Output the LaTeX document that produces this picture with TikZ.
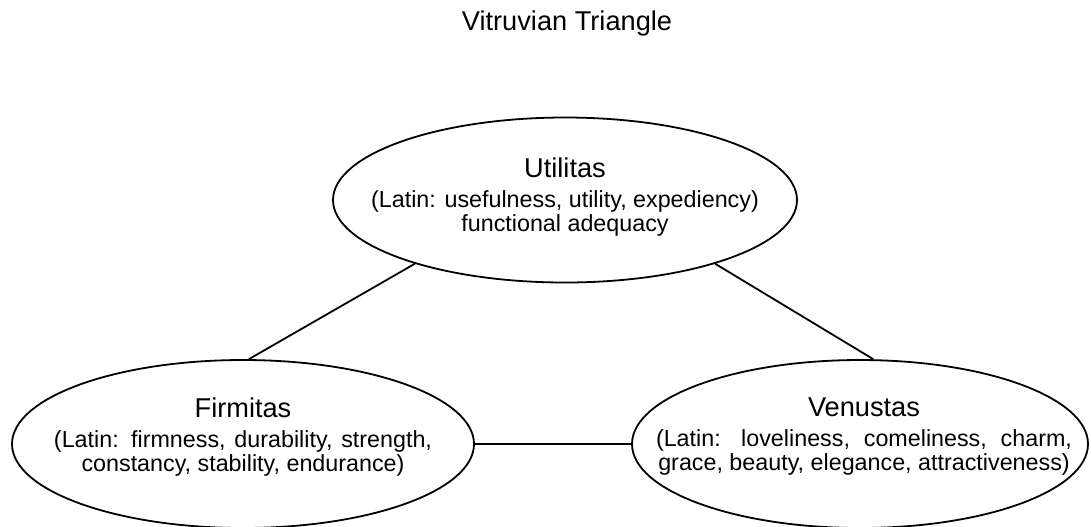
\documentclass[tikz,border=0pt]{standalone}
\usepackage{fontspec}
\setmainfont{Liberation Sans}
\usetikzlibrary{shapes.geometric}

\newcommand{\vtname}[1]{{\fontsize{13.6}{16}\selectfont #1}}

\begin{document}
\begin{tikzpicture}[x=0.5pt, y=0.5pt,
  pillar/.style={ellipse, draw, line width=0.9pt, inner sep=0pt},
  pillartext/.style={align=center, inner sep=0pt, font=\fontsize{11.65}{12}\selectfont},
  link/.style={line width=0.9pt}]
  \useasboundingbox (0,0) rectangle (1091,-526);

  % Titre
  \node[font=\fontsize{13.6}{16}\selectfont] (title) at (567,-23) {Vitruvian Triangle};

  % Ellipses
  \node[pillar, minimum width=232pt, minimum height=82.5pt] (util) at (565,-200) {};
  \node[pillar, minimum width=231pt, minimum height=84pt] (firm) at (243,-444) {};
  \node[pillar, minimum width=228pt, minimum height=84pt] (venus) at (860,-444) {};

  % Textes
  \node[pillartext] (utiltext) at (565,-197) {\vtname{Utilitas}\\[3pt]
    (Latin: usefulness, utility, expediency)\\ functional adequacy};
  \node[pillartext] (firmtext) at (243,-437) {\vtname{Firmitas}\\[3pt]
    \makebox[189pt][s]{(Latin: firmness, durability, strength,}\\
    constancy, stability, endurance)};
  \node[pillartext] (venustext) at (864,-437) {\vtname{Venustas}\\[3pt]
    \makebox[208pt][s]{(Latin: loveliness, comeliness, charm,}\\
    grace, beauty, elegance, attractiveness)};

  % Liens
  \draw[link] (util.203) -- (firm.86);
  \draw[link] (util.337) -- (venus.81);
  \draw[link] (firm.east) -- (venus.west);
\end{tikzpicture}
\end{document}
